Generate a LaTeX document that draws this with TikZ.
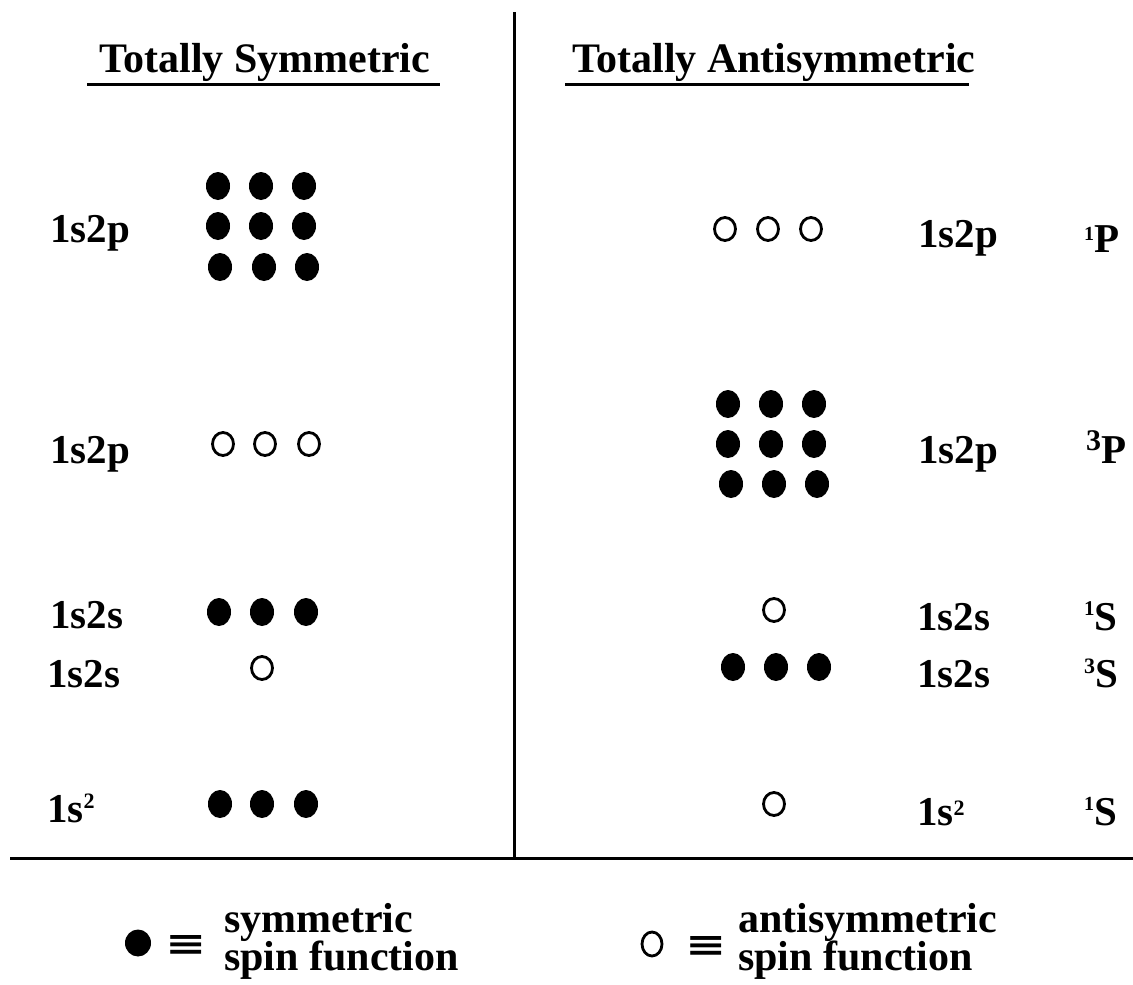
\documentclass[tikz,border=0pt]{standalone}
\usepackage{fontspec}
\setmainfont{Liberation Serif}
\newfontfamily\eqfont{DejaVu Sans}
\usetikzlibrary{shapes.geometric}
\newcommand{\mysup}[3]{\raisebox{#1pt}{\fontsize{#2}{#2}\selectfont #3}}
\begin{document}
\begin{tikzpicture}[x=1pt,y=-1pt,
  lbl/.style={font=\fontsize{41}{41}\selectfont\bfseries, inner sep=0pt, anchor=base west},
  head/.style={font=\fontsize{42}{42}\selectfont\bfseries, inner sep=0pt, anchor=base west},
  fdot/.style={ellipse, fill=black, minimum width=24pt, minimum height=28pt, inner sep=0pt},
  odot/.style={ellipse, draw=black, line width=2.8pt, minimum width=21pt, minimum height=23pt, inner sep=0pt},
  equiv/.style={font=\eqfont\bfseries\fontsize{34}{34}\selectfont, inner sep=0pt, anchor=base},
  rule/.style={line width=3pt}]
\useasboundingbox (0,0) rectangle (1133,985);

% frame lines
\coordinate (vtop) at (514,12);
\coordinate (vbot) at (514,858);
\coordinate (hl) at (10,858);
\coordinate (hr) at (1133,858);
\draw[rule] (vtop) -- (vbot);
\draw[rule] (hl) -- (hr);

% headings
\node[head] (hs) at (99,72) {Totally Symmetric};
\node[head] (ha) at (572,72) {Totally Antisymmetric};
\coordinate (hsl) at (87,84);
\coordinate (hsr) at (440,84);
\coordinate (hal) at (565,84);
\coordinate (har) at (969,84);
\draw[rule] (hsl) -- (hsr);
\draw[rule] (hal) -- (har);

% left labels
\node[lbl] (l1) at (50,242) {1s2p};
\node[lbl] (l2) at (50,463) {1s2p};
\node[lbl] (l3) at (50,628) {1s2s};
\node[lbl] (l4) at (47,687) {1s2s};
\node[lbl] (l5) at (47,822) {1s\mysup{14}{22}{2}};

% right labels
\node[lbl] (r1) at (918,247) {1s2p};
\node[lbl] (r2) at (918,463) {1s2p};
\node[lbl] (r3) at (917,630) {1s2s};
\node[lbl] (r4) at (917,687) {1s2s};
\node[lbl] (r5) at (917,825) {1s\mysup{10}{22}{2}};

% term symbols
\node[lbl] (t1) at (1084,252) {\mysup{12}{20}{1}P};
\node[lbl] (t2) at (1086,463) {\mysup{13}{30}{3}P};
\node[lbl] (t3) at (1084,630) {\mysup{15}{21}{1}S};
\node[lbl] (t4) at (1084,687) {\mysup{14}{22}{3}S};
\node[lbl] (t5) at (1084,825) {\mysup{15}{20}{1}S};

% left: 1s2p grid of filled dots
\foreach \r/\yy in {1/186,2/226}
  \foreach \c/\xx in {1/218,2/261,3/304}
    \node[fdot] (la\r\c) at (\xx,\yy) {};
\foreach \c/\xx in {1/220,2/264,3/307}
  \node[fdot] (la3\c) at (\xx,267) {};
% left: 1s2p open dots
\foreach \c/\xx in {1/223,2/265,3/309}
  \node[odot] (lb\c) at (\xx,444) {};
% left: 1s2s filled
\foreach \c/\xx in {1/219,2/262,3/306}
  \node[fdot] (lc\c) at (\xx,612) {};
% left: 1s2s open
\node[odot] (ld1) at (262,668) {};
% left: 1s^2 filled
\foreach \c/\xx in {1/220,2/262,3/306}
  \node[fdot] (le\c) at (\xx,804) {};

% right: 1s2p open
\foreach \c/\xx in {1/725,2/768,3/811}
  \node[odot] (ra\c) at (\xx,229) {};
% right: 1s2p grid
\foreach \r/\yy in {1/404,2/444}
  \foreach \c/\xx in {1/728,2/771,3/814}
    \node[fdot] (rb\r\c) at (\xx,\yy) {};
\foreach \c/\xx in {1/731,2/774,3/817}
  \node[fdot] (rb3\c) at (\xx,484) {};
% right: 1s2s open
\node[odot] (rc1) at (774,610) {};
% right: 1s2s filled
\foreach \c/\xx in {1/733,2/776,3/819}
  \node[fdot] (rd\c) at (\xx,667) {};
% right: 1s^2 open
\node[odot] (re1) at (774,804) {};

% legend
\node[fdot, minimum width=26pt, minimum height=27pt] (kf) at (138,943) {};
\node[equiv] (ke1) at (186,955) {\scalebox{1.45}[1]{≡}};
\node[head] (ks1) at (224,932) {symmetric};
\node[head] (ks2) at (224,970) {spin function};

\node[odot, minimum width=20pt, minimum height=24pt] (ko) at (652,944) {};
\node[equiv] (ke2) at (706,956) {\scalebox{1.45}[1]{≡}};
\node[head] (ka1) at (738,932) {antisymmetric};
\node[head] (ka2) at (738,970) {spin function};
\end{tikzpicture}
\end{document}
